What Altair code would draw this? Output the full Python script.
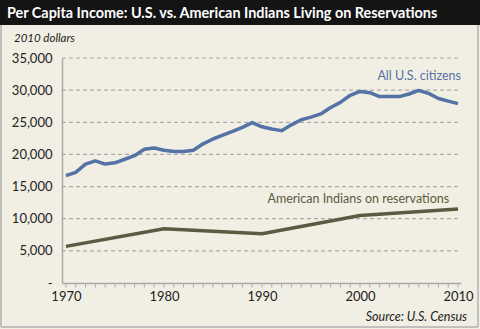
import altair as alt
import pandas as pd

years_us = list(range(1970, 2011))
us_income = [16700, 17200, 18500, 19000, 18500, 18700, 19250, 19800, 20800, 21000,
             20650, 20450, 20450, 20650, 21650, 22400, 23000, 23600, 24200, 24950,
             24300, 23950, 23700, 24600, 25400, 25800, 26300, 27300, 28100, 29200,
             29800, 29600, 29000, 29000, 29000, 29400, 29950, 29500, 28700, 28300,
             27900]
years_res = [1970, 1980, 1990, 2000, 2010]
res_income = [5700, 8450, 7650, 10500, 11500]
y_ticks = [0, 5000, 10000, 15000, 20000, 25000, 30000, 35000]
x_ticks = list(range(1970, 2011))

title_text = "Per Capita Income: U.S. vs. American Indians Living on Reservations"
unit_text = "2010 dollars"
source_text = "Source: U.S. Census"
label_us = "All U.S. citizens"
label_res = "American Indians on reservations"

BLUE = "#5572a6"
OLIVE = "#5d5a42"
GRAY = "#aaaaaa"
BG = "#f1efe3"
FONT = "Lato"

df_us = pd.DataFrame({"year": years_us, "income": us_income})
df_res = pd.DataFrame({"year": years_res, "income": res_income})
df_lab = pd.DataFrame({
    "year": [2010.3, 2009.1],
    "income": [32200, 13000],
    "text": [label_us, label_res],
    "color": [BLUE, OLIVE],
})
df_grid = pd.DataFrame({"income": y_ticks[1:]})
df_xt = pd.DataFrame({"year": x_ticks})

xscale = alt.Scale(domain=[1969.6, 2010.3], nice=False, zero=False)
yscale = alt.Scale(domain=[0, 35000], nice=False)

xaxis = alt.Axis(
    values=x_ticks,
    labelExpr="datum.value % 10 == 0 ? format(datum.value, 'd') : ''",
    title=None, grid=False, domainColor=GRAY, domainWidth=1.5,
    ticks=False, labelFont=FONT,
    labelFontSize=13, labelColor="#222222", labelPadding=7,
)
yaxis = alt.Axis(
    values=y_ticks,
    labelExpr="datum.value == 0 ? '-' : format(datum.value, ',')",
    title=None, grid=False, domainColor=GRAY, domainWidth=1.5, ticks=False, labelPadding=10,
    labelFont=FONT, labelFontSize=13, labelColor="#222222",
)

X = alt.X("year:Q", scale=xscale, axis=xaxis)
Y = alt.Y("income:Q", scale=yscale, axis=yaxis)

one = pd.DataFrame({"a": [0]})
# decorative frame edges (stroke only) and title bar, in pixels relative to the plot area
frame_l = alt.Chart(one).mark_rule(color="#b0b0b0", strokeWidth=1.5).encode(
    x=alt.value(-61), y=alt.value(-33), y2=alt.value(269))
frame_r = alt.Chart(one).mark_rule(color="#b0b0b0", strokeWidth=1.5).encode(
    x=alt.value(416), y=alt.value(-33), y2=alt.value(269))
frame_b = alt.Chart(one).mark_rule(color="#b0b0b0", strokeWidth=1.5).encode(
    y=alt.value(269), x=alt.value(-61), x2=alt.value(416))
bar = alt.Chart(one).mark_rect(fill="#141414").encode(
    x=alt.value(-62), x2=alt.value(418), y=alt.value(-58), y2=alt.value(-33))

grid = alt.Chart(df_grid).mark_rule(color=GRAY, strokeWidth=1.2, strokeDash=[4, 3]).encode(
    y=Y, x=alt.value(0), x2=alt.value(399))
xt = alt.Chart(df_xt).mark_rule(color=GRAY, strokeWidth=1).encode(
    x=X, y=alt.value(225), y2=alt.value(229.5))

line_us = alt.Chart(df_us).mark_line(color=BLUE, strokeWidth=3.5, strokeJoin="round").encode(x=X, y=Y)
line_res = alt.Chart(df_res).mark_line(color=OLIVE, strokeWidth=3.5, strokeJoin="round").encode(x=X, y=Y)

labels = alt.Chart(df_lab).mark_text(align="right", baseline="middle", font=FONT, fontSize=12.5).encode(
    x=X, y=Y, text="text:N", color=alt.Color("color:N", scale=None),
)

title = alt.Chart(pd.DataFrame({"t": [title_text]})).mark_text(
    align="left", baseline="alphabetic", font=FONT, fontWeight="bold", fontSize=14.4, color="white").encode(
    x=alt.value(-55), y=alt.value(-40), text="t:N")
unit = alt.Chart(pd.DataFrame({"t": [unit_text]})).mark_text(
    align="left", baseline="alphabetic", font=FONT, fontStyle="italic", fontSize=11.5, color="#222222").encode(
    x=alt.value(-48), y=alt.value(-16), text="t:N")
source = alt.Chart(pd.DataFrame({"t": [source_text]})).mark_text(
    align="right", baseline="middle", font=FONT, fontStyle="italic", fontSize=12.5, color="#222222").encode(
    x=alt.value(405), y=alt.value(259), text="t:N")

chart = alt.layer(grid, xt, line_us, line_res, labels, frame_l, frame_r, frame_b, bar,
                  title, unit, source).properties(
    width=399, height=225,
    padding={"left": 62, "top": 58, "right": 19, "bottom": 46},
    autosize=alt.AutoSizeParams(type="none"),
    background=BG,
).configure_view(stroke=None)

chart.save("out.html", embed_options={"renderer": "svg", "actions": False})
